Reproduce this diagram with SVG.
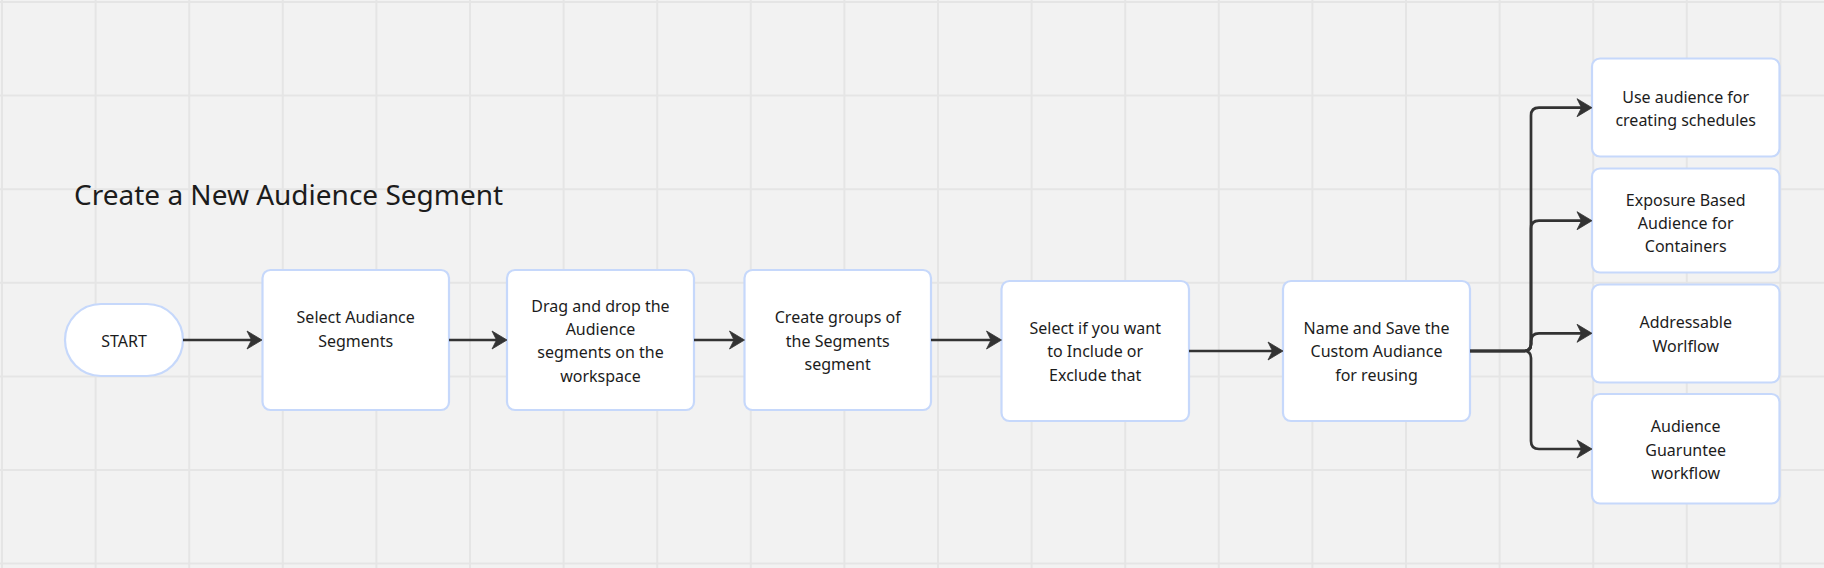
<svg xmlns="http://www.w3.org/2000/svg" width="1824" height="568" viewBox="0 0 1824 568">
  <style>
    .grid { stroke: #e5e5e5; stroke-width: 2; fill: none; }
    .node { fill: #ffffff; stroke: #c6d8fb; stroke-width: 2.2; }
    .lbl { font-family: "Noto Sans", "DejaVu Sans", sans-serif; font-size: 16px; fill: #1c1c1c; text-anchor: middle; }
    .title { font-family: "Noto Sans", "DejaVu Sans", sans-serif; font-size: 28px; fill: #1c1c1c; }
    .conn { fill: none; stroke: #333333; stroke-width: 2.7; marker-end: url(#arrow); }
  </style>
  <defs>
    <marker id="arrow" markerUnits="userSpaceOnUse" markerWidth="20" markerHeight="20" refX="0" refY="0" orient="auto" overflow="visible">
      <path d="M4,0 L-11,-9 L-6.5,0 L-11,9 Z" fill="#333333" stroke="#333333" stroke-width="0.8" stroke-linejoin="round"/>
    </marker>
  </defs>
  <rect x="0" y="0" width="1824" height="568" fill="#f2f2f2"/>
  <g id="grid">
    <path class="grid" d="M2,0V568 M95.6,0V568 M189.2,0V568 M282.8,0V568 M376.4,0V568 M470,0V568 M563.6,0V568 M657.2,0V568 M750.8,0V568 M844.4,0V568 M938,0V568 M1031.6,0V568 M1125.2,0V568 M1218.8,0V568 M1312.4,0V568 M1406,0V568 M1499.6,0V568 M1593.2,0V568 M1686.8,0V568 M1780.4,0V568 M0,2H1824 M0,95.6H1824 M0,189.2H1824 M0,282.8H1824 M0,376.4H1824 M0,470H1824 M0,563.6H1824"/>
  </g>
  <text id="title" class="title" x="74" y="205">Create a New Audience Segment</text>

  <g id="start">
    <rect class="node" x="65" y="304" width="118" height="72" rx="36" stroke-width="2.5"/>
    <text class="lbl" x="124" y="346.5">START</text>
  </g>
  <g id="select-segments">
    <rect class="node" x="262.5" y="270" width="186.5" height="140" rx="8"/>
    <text class="lbl" x="355.7"><tspan x="355.7" y="323.3">Select Audiance</tspan><tspan x="355.7" y="346.7">Segments</tspan></text>
  </g>
  <g id="drag-drop">
    <rect class="node" x="507" y="270" width="187" height="140" rx="8"/>
    <text class="lbl"><tspan x="600.5" y="311.7">Drag and drop the</tspan><tspan x="600.5" y="335">Audience</tspan><tspan x="600.5" y="358.3">segments on the</tspan><tspan x="600.5" y="381.7">workspace</tspan></text>
  </g>
  <g id="create-groups">
    <rect class="node" x="744.5" y="270" width="186.5" height="140" rx="8"/>
    <text class="lbl"><tspan x="837.7" y="323.3">Create groups of</tspan><tspan x="837.7" y="346.7">the Segments</tspan><tspan x="837.7" y="370">segment</tspan></text>
  </g>
  <g id="include-exclude">
    <rect class="node" x="1001.5" y="281" width="187.5" height="140" rx="8"/>
    <text class="lbl"><tspan x="1095.2" y="334">Select if you want</tspan><tspan x="1095.2" y="357.3">to Include or</tspan><tspan x="1095.2" y="380.7">Exclude that</tspan></text>
  </g>
  <g id="name-save">
    <rect class="node" x="1283" y="281" width="187" height="140" rx="8"/>
    <text class="lbl"><tspan x="1376.5" y="334">Name and Save the</tspan><tspan x="1376.5" y="357.3">Custom Audiance</tspan><tspan x="1376.5" y="380.7">for reusing</tspan></text>
  </g>
  <g id="schedules">
    <rect class="node" x="1592" y="58.5" width="187.5" height="98" rx="8"/>
    <text class="lbl"><tspan x="1685.7" y="102.7">Use audience for</tspan><tspan x="1685.7" y="126">creating schedules</tspan></text>
  </g>
  <g id="exposure">
    <rect class="node" x="1592" y="168.5" width="187.5" height="104" rx="8"/>
    <text class="lbl"><tspan x="1685.7" y="205.7">Exposure Based</tspan><tspan x="1685.7" y="229">Audience for</tspan><tspan x="1685.7" y="252.3">Containers</tspan></text>
  </g>
  <g id="addressable">
    <rect class="node" x="1592" y="284.5" width="187.5" height="98" rx="8"/>
    <text class="lbl"><tspan x="1685.7" y="328.3">Addressable</tspan><tspan x="1685.7" y="351.7">Worlflow</tspan></text>
  </g>
  <g id="guarantee">
    <rect class="node" x="1592" y="394" width="187.5" height="109.5" rx="8"/>
    <text class="lbl"><tspan x="1685.7" y="432.3">Audience</tspan><tspan x="1685.7" y="455.7">Guaruntee</tspan><tspan x="1685.7" y="479">workflow</tspan></text>
  </g>

  <g id="connectors">
    <path class="conn" d="M183,340 H258"/>
    <path class="conn" d="M449,340 H503"/>
    <path class="conn" d="M694,340 H740.5"/>
    <path class="conn" d="M931,340 H997.5"/>
    <path class="conn" d="M1189,351 H1279"/>
    <path class="conn" d="M1470,351 H1524 Q1531,351 1531,344 V115.7 Q1531,107.7 1539,107.7 H1588"/>
    <path class="conn" d="M1470,351 H1524 Q1531,351 1531,344 V228.7 Q1531,220.7 1539,220.7 H1588"/>
    <path class="conn" d="M1470,351 H1524 Q1531,351 1531,344 V341.3 Q1531,333.3 1539,333.3 H1588"/>
    <path class="conn" d="M1470,351 H1524 Q1531,351 1531,358 V441 Q1531,449 1539,449 H1588"/>
  </g>
</svg>
